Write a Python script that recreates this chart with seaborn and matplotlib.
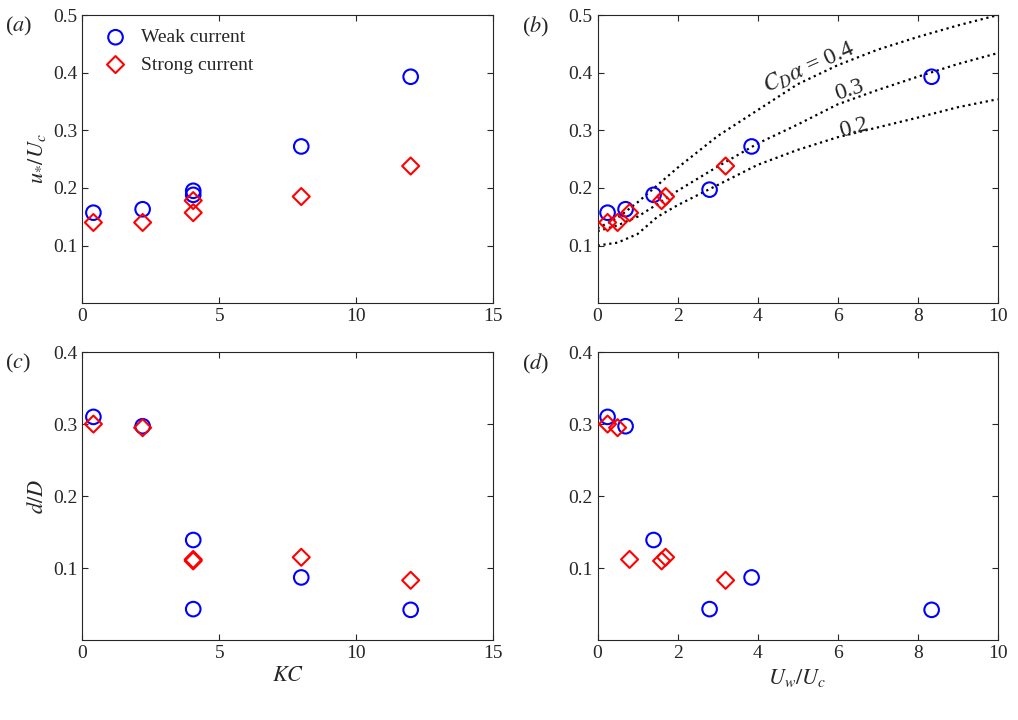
import numpy as np
import matplotlib
matplotlib.use("Agg")
import matplotlib.pyplot as plt
import seaborn as sns

# panel data
kc_weak = [0.4, 2.2, 4.05, 4.05, 8.0, 12.0]
kc_strong = [0.4, 2.2, 4.05, 4.05, 8.0, 12.0]
uw_weak = [0.25, 0.7, 1.4, 2.8, 3.85, 8.35]
uw_strong = [0.25, 0.5, 0.8, 1.6, 1.7, 3.2]
ustar_weak = [0.157, 0.163, 0.195, 0.188, 0.272, 0.393]
ustar_strong = [0.140, 0.140, 0.178, 0.157, 0.185, 0.238]
ustar_weak_b = [0.157, 0.163, 0.188, 0.197, 0.272, 0.393]
ustar_strong_b = [0.140, 0.140, 0.157, 0.178, 0.185, 0.238]
dD_weak = [0.310, 0.297, 0.139, 0.043, 0.087, 0.042]
dD_strong = [0.300, 0.295, 0.112, 0.110, 0.115, 0.083]
dD_weak_d = [0.310, 0.297, 0.139, 0.043, 0.087, 0.042]
dD_strong_d = [0.300, 0.295, 0.112, 0.110, 0.115, 0.083]

# model curves
curve_x = [0, 0.5, 1, 1.5, 2, 3, 4, 5, 6, 7, 8, 9, 10]
curve_04 = [0.13, 0.148, 0.175, 0.205, 0.235, 0.29, 0.335, 0.38, 0.413, 0.44, 0.462, 0.482, 0.50]
curve_03 = [0.125, 0.135, 0.15, 0.172, 0.195, 0.237, 0.277, 0.31, 0.345, 0.37, 0.393, 0.415, 0.434]
curve_02 = [0.10, 0.105, 0.12, 0.15, 0.17, 0.205, 0.24, 0.266, 0.288, 0.305, 0.322, 0.34, 0.354]

sns.set_style("ticks")
plt.rcParams['font.family'] = ['Liberation Serif', 'DejaVu Serif']
plt.rcParams['mathtext.fontset'] = 'stix'
plt.rcParams['font.size'] = 14
plt.rcParams['xtick.direction'] = 'in'
plt.rcParams['ytick.direction'] = 'in'

fig = plt.figure(figsize=(10.18, 7.2), dpi=100)
axa = fig.add_axes([0.081, 0.579, 0.403, 0.400])
axb = fig.add_axes([0.587, 0.579, 0.393, 0.400])
axc = fig.add_axes([0.081, 0.111, 0.403, 0.400])
axd = fig.add_axes([0.587, 0.111, 0.393, 0.400])

circ = dict(marker='o', s=110, facecolors='none', edgecolors='blue', linewidths=1.5, zorder=3)
diam = dict(marker='D', s=75, facecolors='none', edgecolors='red', linewidths=1.5, zorder=3)

for ax, xw, yw, xs, ys in [(axa, kc_weak, ustar_weak, kc_strong, ustar_strong),
                           (axb, uw_weak, ustar_weak_b, uw_strong, ustar_strong_b),
                           (axc, kc_weak, dD_weak, kc_strong, dD_strong),
                           (axd, uw_weak, dD_weak_d, uw_strong, dD_strong_d)]:
    ax.scatter(xw, yw, label='Weak current', **circ)
    ax.scatter(xs, ys, label='Strong current', **diam)
    for s in ax.spines.values():
        s.set_visible(True)
        s.set_linewidth(0.8)
    ax.tick_params(top=True, right=True, labelsize=14, length=4)

for yv in (curve_04, curve_03, curve_02):
    sns.lineplot(x=curve_x, y=yv, ax=axb, color='black', linestyle=':',
                 linewidth=1.6, zorder=2, legend=False)

axb.text(5.3, 0.41, r'$C_D\alpha$ = 0.4', rotation=24, ha='center', va='center', fontsize=17)
axb.text(6.3, 0.37, '0.3', rotation=18, ha='center', va='center', fontsize=17)
axb.text(6.4, 0.305, '0.2', rotation=15, ha='center', va='center', fontsize=17)

for ax in (axa, axc):
    ax.set_xlim(0, 15)
    ax.set_xticks([0, 5, 10, 15])
for ax in (axb, axd):
    ax.set_xlim(0, 10)
    ax.set_xticks([0, 2, 4, 6, 8, 10])
for ax in (axa, axb):
    ax.set_ylim(0, 0.5)
    ax.set_yticks([0.1, 0.2, 0.3, 0.4, 0.5])
for ax in (axc, axd):
    ax.set_ylim(0, 0.4)
    ax.set_yticks([0.1, 0.2, 0.3, 0.4])
for ax in (axa, axb, axc, axd):
    ax.yaxis.set_major_formatter(matplotlib.ticker.FuncFormatter(lambda v, p: f'{v:g}'))

axa.set_ylabel(r'$u_{*}/U_c$', fontsize=16)
axc.set_ylabel(r'$d/D$', fontsize=16)
axc.set_xlabel(r'$KC$', fontsize=16)
axd.set_xlabel(r'$U_w/U_c$', fontsize=16)

axa.legend(loc='upper left', frameon=False, fontsize=14, handletextpad=0.3, borderaxespad=0.3)

for ax, lab in [(axa, 'a'), (axb, 'b'), (axc, 'c'), (axd, 'd')]:
    ax.text(-0.19, 1.0, '($' + lab + '$)', transform=ax.transAxes,
            ha='left', va='top', fontsize=16)

fig.savefig('out.png', dpi=100)
